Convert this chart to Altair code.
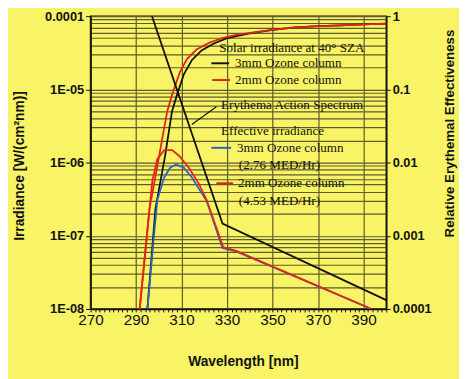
import json
import altair as alt
import pandas as pd

# ---------------- data ----------------
solar3_wl = [295, 298.5, 302.8, 305.8, 308, 311, 314.5, 318.8, 324, 330, 340, 350, 360, 370, 380, 390, 400]
solar3_irr = [1e-8, 2.3e-7, 1.25e-6, 5.0e-6, 8.4e-6, 1.6e-5, 2.5e-5, 3.4e-5, 4.2e-5, 5.0e-5, 5.8e-5,
              6.5e-5, 7.0e-5, 7.3e-5, 7.5e-5, 7.7e-5, 7.9e-5]

solar2_wl = [291.6, 295.9, 300.2, 303.7, 305.8, 309.3, 312.3, 316.6, 322.3, 328.3, 334, 340, 350, 360, 370,
             380, 390, 400]
solar2_irr = [1e-8, 2.3e-7, 1.25e-6, 5.0e-6, 8.4e-6, 1.72e-5, 2.57e-5, 3.5e-5, 4.35e-5, 5.07e-5, 5.56e-5,
              5.9e-5, 6.5e-5, 7.0e-5, 7.3e-5, 7.5e-5, 7.7e-5, 7.9e-5]

eff3_wl = [295, 298, 299.4, 302.4, 305, 307.6, 311, 314.5, 318, 321, 328, 334, 393.5]
eff3_irr = [1e-8, 1.1e-7, 3.1e-7, 6.3e-7, 8.5e-7, 9.4e-7, 8.5e-7, 6.3e-7, 4.2e-7, 3.0e-7, 6.8e-8, 6.1e-8, 1e-8]

eff2_wl = [291.6, 295.9, 297.2, 299.4, 302.4, 305.9, 308.9, 313.2, 317.5, 321, 328.3, 334, 393.5]
eff2_irr = [1e-8, 2.3e-7, 5.7e-7, 1.12e-6, 1.48e-6, 1.48e-6, 1.24e-6, 8.5e-7, 5.2e-7, 3.1e-7, 7.0e-8,
            6.2e-8, 1e-8]

action_wl = [297, 328, 400]
action_rel = [1.0, 1.47e-3, 1.32e-4]

# annotation texts (position in data units)
ann_text = ["Solar irradiance at 40° SZA", "3mm Ozone column", "2mm Ozone column",
            "Erythema Action Spectrum", "Effective irradiance", "3mm Ozone column",
            "(2.76 MED/Hr)", "2mm Ozone column", "(4.53 MED/Hr)"]
ann_wl = [326.6, 333.5, 333.5, 327.4, 327.4, 334.35, 335.2, 334.8, 335.2]
ann_irr = [3.72e-5, 2.27e-5, 1.34e-5, 6.19e-6, 2.69e-6, 1.59e-6, 9.12e-7, 5.22e-7, 3.0e-7]

# legend key segments
seg_wl1 = [323.1, 323.5, 323.1, 325.3]
seg_wl2 = [330.9, 331.3, 331.8, 332.6]
seg_irr = [2.27e-5, 1.34e-5, 1.59e-6, 5.22e-7]
seg_color = ["#111111", "#e3241b", "#2a62c4", "#e3241b"]

# leader line to the action spectrum
leader_wl = [325.3, 314.5]
leader_irr = [5.8e-6, 3.3e-6]

# axes ticks
x_major = [270, 290, 310, 330, 350, 370, 390]
x_minor = list(range(270, 401, 2))
y_major = [1e-8, 1e-7, 1e-6, 1e-5, 1e-4]
y_major_labels = ["1E-08", "1E-07", "1E-06", "1E-05", "0.0001"]
y_mantissa = [1, 2, 3, 4, 5, 6, 7, 8, 9]
r_major = [1e-4, 1e-3, 1e-2, 1e-1, 1.0]
r_major_labels = ["0.0001", "0.001", "0.01", "0.1", "1"]

# ---------------- styling ----------------
W, H = 301, 298
BG = "#f8f466"
GRID = "#5e5b2c"
BLACK = "#111111"
RED = "#e3241b"
BLUE = "#2a62c4"
SANS = "Liberation Sans"
SERIF = "Liberation Serif"

y_ticks = [m * d for d in y_major[:-1] for m in y_mantissa] + [y_major[-1]]

xmaj = json.dumps(x_major)
ymaj = json.dumps(y_major)
ylab = json.dumps(y_major_labels)
rmaj = json.dumps(r_major)
rlab = json.dumps(r_major_labels)

xscale = alt.Scale(domain=[270, 400], nice=False, zero=False)
yscale = alt.Scale(type="log", domain=[1e-8, 1e-4], nice=False)
rscale = alt.Scale(type="log", domain=[1e-4, 1], nice=False)

x_axis = alt.Axis(
    values=x_minor,
    labelExpr=f"indexof({xmaj}, datum.value) >= 0 ? datum.value : ''",
    grid=True, gridColor=GRID, gridWidth=1.2,
    gridOpacity={"condition": {"test": f"indexof({xmaj}, datum.value) >= 0", "value": 1}, "value": 0},
    tickSize=3, tickColor=BLACK, domainColor=BLACK, domainWidth=1.5,
    labelFont=SANS, labelFontSize=15.5, labelColor=BLACK, labelPadding=1,
    labelFlush=False, labelOverlap=False,
    title="Wavelength [nm]", titleFont=SANS, titleFontSize=14, titleFontWeight="bold",
    titleColor=BLACK, titleX=155, titleY=54, titleBaseline="middle", titleAnchor="middle",
)

y_axis = alt.Axis(
    orient="left", values=y_ticks,
    labelExpr=f"indexof({ymaj}, datum.value) >= 0 ? {ylab}[indexof({ymaj}, datum.value)] : ''",
    grid=True, gridColor=GRID, gridWidth=1.2, gridOpacity=1,
    tickSize=5, tickColor=BLACK,
    tickOpacity={"condition": {"test": f"indexof({ymaj}, datum.value) >= 0", "value": 1}, "value": 0},
    domainColor=BLACK, domainWidth=1.5,
    labelFont=SANS, labelFontSize=13, labelFontWeight="bold", labelColor=BLACK, labelPadding=2,
    labelFlush=False, labelOverlap=False,
    title="Irradiance [W/(cm²nm)]", titleFont=SANS, titleFontSize=14, titleFontWeight="bold",
    titleColor=BLACK, titleAngle=270, titleX=-72, titleY=152, titleBaseline="middle",
)

r_axis = alt.Axis(
    orient="right", values=r_major,
    labelExpr=f"{rlab}[indexof({rmaj}, datum.value)]",
    grid=False, tickSize=4, tickColor=BLACK, domainColor=BLACK, domainWidth=1.5,
    labelFont=SANS, labelFontSize=13, labelFontWeight="bold", labelColor=BLACK, labelPadding=2,
    labelFlush=False, labelOverlap=False,
    title="Relative Erythemal Effectiveness", titleFont=SANS, titleFontSize=13.5,
    titleFontWeight="bold", titleColor=BLACK, titleAngle=270, titleX=64, titleY=119,
    titleBaseline="middle",
)


def enc_left(ch):
    return ch.encode(
        x=alt.X("wl:Q", scale=xscale, axis=x_axis),
        y=alt.Y("irr:Q", scale=yscale, axis=y_axis),
    )


def line(wl, vals, color, width=1.8):
    df = pd.DataFrame({"wl": wl, "irr": vals})
    return enc_left(alt.Chart(df).mark_line(color=color, strokeWidth=width, clip=True))


solar3 = line(solar3_wl, solar3_irr, BLACK)
solar2 = line(solar2_wl, solar2_irr, RED)
eff3 = line(eff3_wl, eff3_irr, BLUE)
eff2 = line(eff2_wl, eff2_irr, RED)
leader = line(leader_wl, leader_irr, BLACK, 1.2)

seg_df = pd.DataFrame({"wl": seg_wl1, "wl2": seg_wl2, "irr": seg_irr, "c": seg_color})
segs = alt.Chart(seg_df).mark_rule(strokeWidth=2).encode(
    x=alt.X("wl:Q", scale=xscale, axis=x_axis),
    x2="wl2:Q",
    y=alt.Y("irr:Q", scale=yscale, axis=y_axis),
    color=alt.Color("c:N", scale=None),
)

ann_df = pd.DataFrame({"wl": ann_wl, "irr": ann_irr, "t": ann_text})
texts = enc_left(
    alt.Chart(ann_df).mark_text(align="left", baseline="middle", font=SERIF, fontSize=13.3,
                                color=BLACK)
).encode(text="t:N")

left = alt.layer(solar3, solar2, eff3, eff2, leader, segs, texts)

act_df = pd.DataFrame({"wl": action_wl, "rel": action_rel})
action = alt.Chart(act_df).mark_line(color=BLACK, strokeWidth=1.8, clip=True).encode(
    x=alt.X("wl:Q", scale=xscale, axis=x_axis),
    y=alt.Y("rel:Q", scale=rscale, axis=r_axis),
)

chart = alt.layer(left, action).resolve_scale(y="independent").properties(
    width=W, height=H,
    autosize=alt.AutoSizeParams(type="none"),
    padding={"left": 84, "top": 5, "right": 74, "bottom": 68},
    background=BG,
).configure_view(stroke=BLACK, strokeWidth=1.5)

chart.save("out.html", embed_options={"renderer": "svg", "actions": False})
